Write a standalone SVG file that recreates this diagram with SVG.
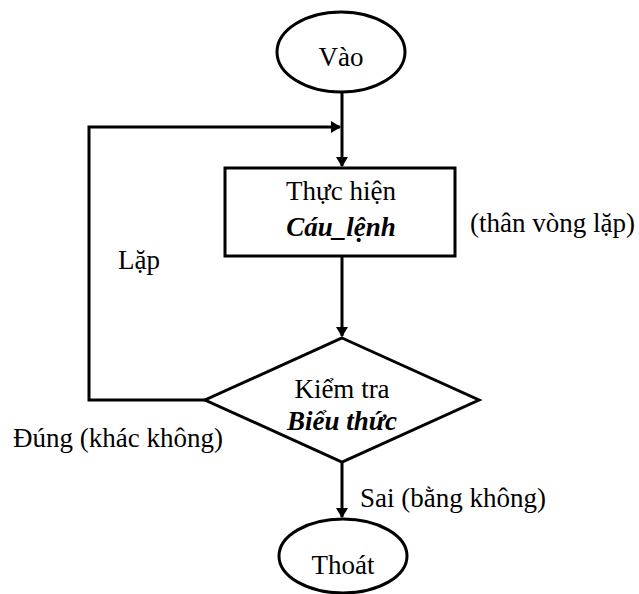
<svg xmlns="http://www.w3.org/2000/svg" width="639" height="594" viewBox="0 0 639 594">
<defs>
<style>
.s{fill:none;stroke:#000;stroke-width:3}
.t{font-family:"Liberation Serif","Times New Roman",serif;font-size:27px;fill:#000}
.c{text-anchor:middle}
.bi{font-weight:bold;font-style:italic}
</style>
<marker id="a" markerWidth="10" markerHeight="12" refX="9" refY="6" orient="auto" markerUnits="userSpaceOnUse">
<path d="M0,0 L10,6 L0,12 Z" fill="#000"/>
</marker>
</defs>
<rect width="639" height="594" fill="#fff"/>
<g id="connectors">
<line class="s" x1="342" y1="92" x2="342" y2="166" marker-end="url(#a)"/>
<polyline class="s" points="205,400 89,400 89,127 340,127" marker-end="url(#a)"/>
<line class="s" x1="342" y1="256" x2="342" y2="336" marker-end="url(#a)"/>
<line class="s" x1="342" y1="462" x2="342" y2="517" marker-end="url(#a)"/>
</g>
<g id="vao">
<ellipse class="s" cx="341" cy="52" rx="64" ry="40"/>
<text class="t c" x="341" y="66">Vào</text>
</g>
<g id="thuchien">
<rect class="s" x="225" y="168" width="230" height="88"/>
<text class="t c" x="341" y="200">Thực hiện</text>
<text class="t c bi" x="341" y="236">Cáu_lệnh</text>
</g>
<g id="kiemtra">
<polygon class="s" points="342,338 479,400 342,462 205,400"/>
<text class="t c" x="342" y="398">Kiểm tra</text>
<text class="t c bi" x="342" y="430">Biểu thức</text>
</g>
<g id="thoat">
<ellipse class="s" cx="343" cy="556" rx="64" ry="37"/>
<text class="t c" x="343" y="574">Thoát</text>
</g>
<text class="t" x="470" y="232">(thân vòng lặp)</text>
<text class="t" x="118" y="269">Lặp</text>
<text class="t" x="13" y="447">Đúng (khác không)</text>
<text class="t" x="360" y="507">Sai (bằng không)</text>
</svg>
